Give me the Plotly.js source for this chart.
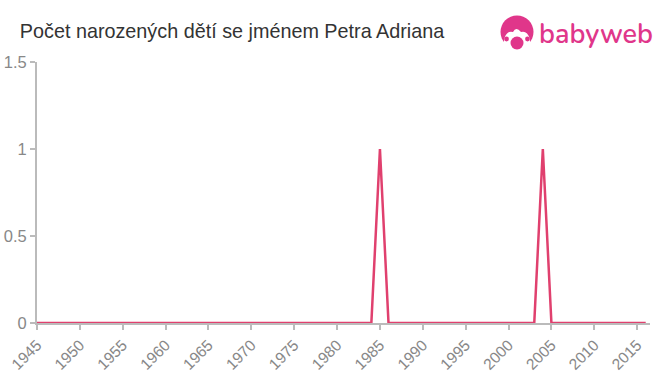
<!DOCTYPE html>
<html>
<head>
<meta charset="utf-8">
<script src="https://cdn.plot.ly/plotly-3.0.1.min.js"></script>
<style>
body{margin:0;padding:0;background:#fff;}
#wrap{position:relative;width:660px;height:375px;}
#chart{width:660px;height:375px;}
#logo{position:absolute;left:499px;top:14px;height:40px;display:flex;align-items:center;}
#logo span{font-family:"Nunito","Lato","Open Sans",sans-serif;font-weight:600;font-size:27px;color:#e0368a;letter-spacing:0px;margin-left:4px;line-height:1;}
</style>
</head>
<body>
<div id="wrap">
<div id="chart"></div>
<div id="logo">
<svg width="36" height="38" viewBox="0 0 36 38">
<circle cx="18" cy="17" r="16.5" fill="#e0368a"/>
<path d="M5 24 Q8 15 14 17 Q17 11 22 17 Q28 15 31 24 L31 33 L5 33 Z" fill="#fff"/>
<circle cx="18" cy="28" r="6.5" fill="#e0368a"/>
<circle cx="7.5" cy="24" r="2.4" fill="#e0368a"/>
<circle cx="28.5" cy="24" r="2.4" fill="#e0368a"/>
</svg>
<span>babyweb</span>
</div>
</div>
<script>
const years = [1945,1946,1947,1948,1949,1950,1951,1952,1953,1954,1955,1956,1957,1958,1959,1960,1961,1962,1963,1964,1965,1966,1967,1968,1969,1970,1971,1972,1973,1974,1975,1976,1977,1978,1979,1980,1981,1982,1983,1984,1985,1986,1987,1988,1989,1990,1991,1992,1993,1994,1995,1996,1997,1998,1999,2000,2001,2002,2003,2004,2005,2006,2007,2008,2009,2010,2011,2012,2013,2014,2015,2016];
const counts = [0,0,0,0,0,0,0,0,0,0,0,0,0,0,0,0,0,0,0,0,0,0,0,0,0,0,0,0,0,0,0,0,0,0,0,0,0,0,0,0,1,0,0,0,0,0,0,0,0,0,0,0,0,0,0,0,0,0,0,1,0,0,0,0,0,0,0,0,0,0,0,0];
const xTicks = [1945,1950,1955,1960,1965,1970,1975,1980,1985,1990,1995,2000,2005,2010,2015];
const yTicks = [0,0.5,1,1.5];
const titleText = "Počet narozených dětí se jménem Petra Adriana";

Plotly.newPlot('chart', [{
  x: years, y: counts, type: 'scatter', mode: 'lines',
  line: {color: '#e0406e', width: 2.5},
  hoverinfo: 'skip'
}], {
  width: 660, height: 375,
  margin: {l: 37, r: 10, t: 62, b: 52, pad: 0},
  paper_bgcolor: '#fff', plot_bgcolor: '#fff',
  showlegend: false,
  title: {text: titleText, x: 0.03, xanchor: 'left', y: 0.918, yanchor: 'middle',
    font: {family: 'Liberation Sans, Arial, sans-serif', size: 19.8, color: '#333'}},
  xaxis: {
    range: [1945, 2016.5], tickvals: xTicks, ticktext: xTicks.map(String),
    tickangle: -45, showgrid: false, zeroline: false,
    showline: true, linecolor: '#bbb', linewidth: 2,
    ticks: 'outside', ticklen: 5, tickcolor: '#bbb', tickwidth: 2,
    tickfont: {family: 'Liberation Sans, Arial, sans-serif', size: 15.5, color: '#888'}
  },
  yaxis: {
    range: [0, 1.5], tickvals: yTicks, ticktext: ['0','0.5','1','1.5'],
    showgrid: false, zeroline: false,
    showline: true, linecolor: '#bbb', linewidth: 2,
    ticks: 'outside', ticklen: 5, tickcolor: '#bbb', tickwidth: 2,
    tickfont: {family: 'Liberation Sans, Arial, sans-serif', size: 16.5, color: '#888'}
  }
}, {displayModeBar: false, staticPlot: true});
</script>
</body>
</html>
